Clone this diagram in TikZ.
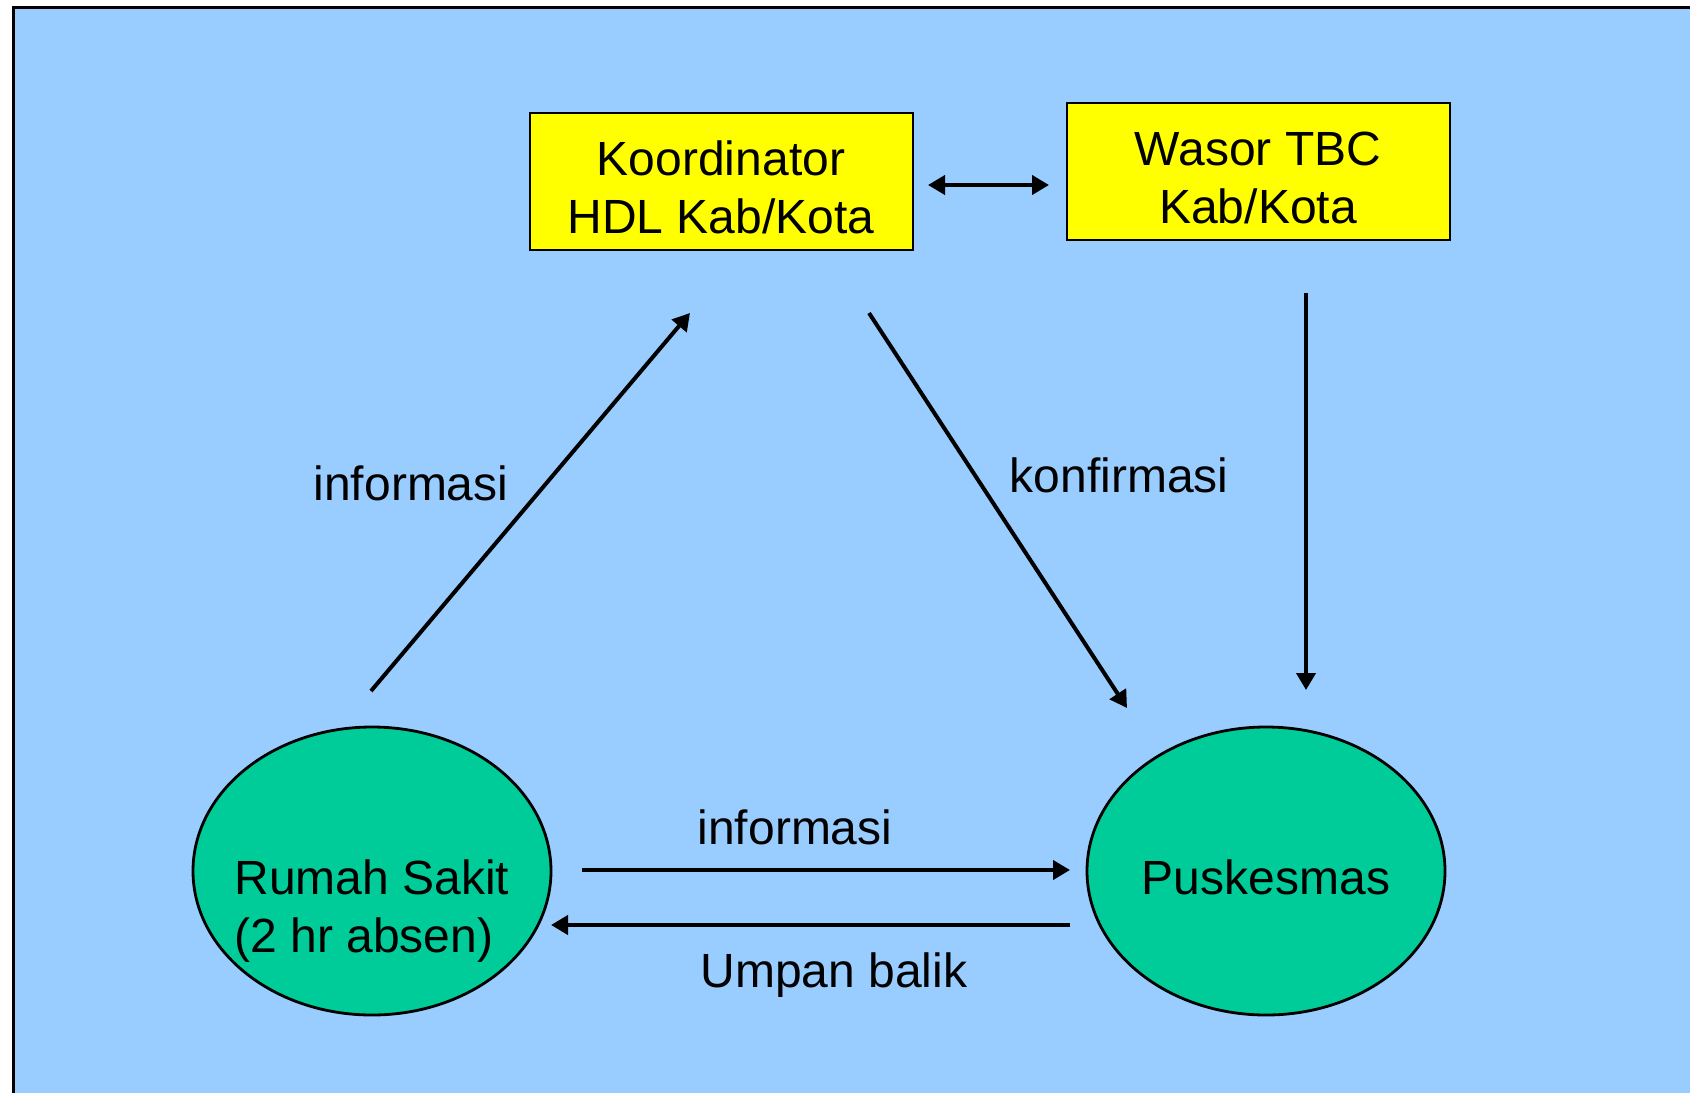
\documentclass[tikz,border=0pt]{standalone}
\usepackage{fontspec}
\setmainfont{Liberation Sans}
\usetikzlibrary{shapes.geometric,arrows.meta}
\definecolor{skyblue}{HTML}{99CCFF}
\definecolor{sea}{HTML}{00CC99}
\definecolor{lemon}{HTML}{FFFF00}
\tikzset{
  txt/.style={font=\fontsize{24}{29}\selectfont, align=center, inner sep=0pt},
  yellowbox/.style={draw=black, line width=1pt, fill=lemon, minimum width=191.5pt, minimum height=68.5pt, inner sep=0pt},
  bubble/.style={ellipse, draw=black, line width=1.4pt, fill=sea, minimum width=179pt, minimum height=144pt, inner sep=0pt},
  flow/.style={line width=2pt, -{Triangle[length=8.5pt,width=9.5pt]}},
  flowboth/.style={line width=2pt, {Triangle[length=8.5pt,width=9.5pt]}-{Triangle[length=8.5pt,width=9.5pt]}},
}
\begin{document}
\begin{tikzpicture}[x=0.5pt, y=-0.5pt]
\useasboundingbox (0,0) rectangle (1690,1092);
\begin{scope}
  \clip (0,0) rectangle (1690,1092);
  \draw[line width=1.5pt, fill=skyblue] (13.5,7) rectangle (1720,1120);
\end{scope}

% top boxes
\node[yellowbox] (koord) at (721.5,181.5) {};
\node[txt] at (721,187.5) {Koordinator\\HDL Kab/Kota};
\node[yellowbox] (wasor) at (1258.5,171.5) {};
\node[txt] at (1258,177.5) {Wasor TBC\\Kab/Kota};

% bottom ellipses
\node[bubble] (rs) at (372,871) {};
\node[txt, align=left] at (372,911) {Rumah Sakit\\(2 hr absen)};
\node[bubble] (pusk) at (1266,871) {};
\node[txt] at (1266,877) {Puskesmas};

% connector end points
\coordinate (kR) at (928,185);
\coordinate (wL) at (1049,185);
\coordinate (rsTop) at (371,691);
\coordinate (kIn) at (690,313);
\coordinate (kOut) at (869,313);
\coordinate (pIn) at (1127,708);
\coordinate (wOut) at (1306,293);
\coordinate (pTop) at (1306,690);
\coordinate (rsR) at (582,870);
\coordinate (pL) at (1070,870);
\coordinate (pL2) at (1070,925);
\coordinate (rsR2) at (551,925);

\draw[flowboth] (kR) -- (wL);
\draw[flow] (rsTop) -- (kIn);
\draw[flow] (kOut) -- (pIn);
\draw[flow] (wOut) -- (pTop);
\draw[flow] (rsR) -- (pL);
\draw[flow] (pL2) -- (rsR2);

% labels
\node[txt] (l1) at (411,483) {informasi};
\node[txt] (l2) at (1119,475) {konfirmasi};
\node[txt] (l3) at (795,827) {informasi};
\node[txt] (l4) at (834,975) {Umpan balik};
\end{tikzpicture}
\end{document}
